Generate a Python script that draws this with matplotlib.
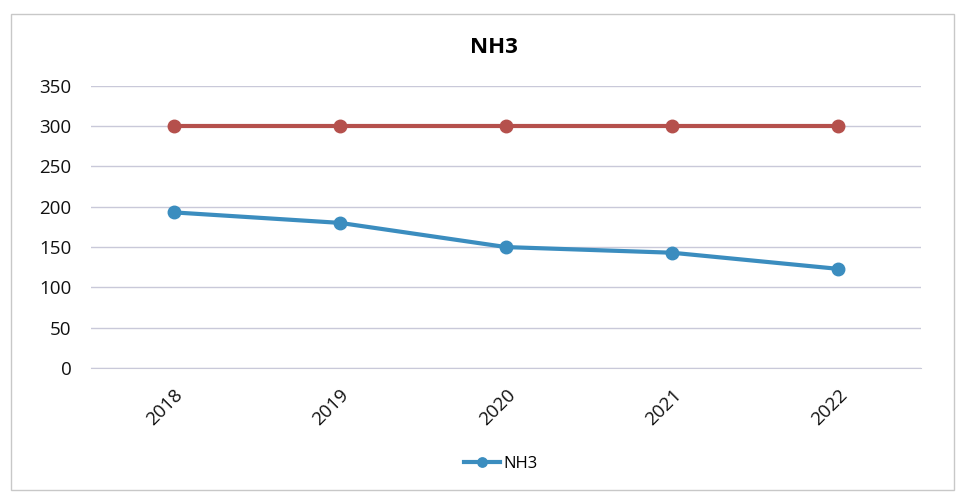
"""Recreate the NH3 yearly chart with its flat limit line."""

import matplotlib.pyplot as plt
from matplotlib.patches import Rectangle

years = ["2018", "2019", "2020", "2021", "2022"]
nh3_values = [193, 180, 150, 143, 123]
limit_values = [300, 300, 300, 300, 300]
y_ticks = [0, 50, 100, 150, 200, 250, 300, 350]

plt.rcParams["font.family"] = ["Open Sans", "DejaVu Sans"]

figure = plt.figure(figsize=(9.63, 4.96), dpi=100)
figure.patches.append(Rectangle((0.011, 0.012), 0.98, 0.96, transform=figure.transFigure,
                                fill=False, edgecolor="#c8c8c8", linewidth=1.0))
axes = figure.add_axes([0.0945, 0.258, 0.862, 0.569])

positions = list(range(len(years)))
axes.plot(positions, limit_values, color="#b5504c", linewidth=3, marker="o",
          markersize=9, solid_capstyle="round")
axes.plot(positions, nh3_values, color="#3b8dbf", linewidth=3, marker="o",
          markersize=9, label="NH3")

axes.set_xlim(-0.5, len(years) - 0.5)
axes.set_ylim(0, 350)
axes.set_yticks(y_ticks)
axes.set_xticks(positions)
axes.set_xticklabels(years, rotation=45, ha="right", va="top", rotation_mode="anchor")
axes.tick_params(axis="both", length=0, labelsize=13.5, colors="#111111")
axes.tick_params(axis="x", pad=13)
axes.tick_params(axis="y", pad=14)
axes.grid(axis="y", color="#c9c9d9", linewidth=1.0)
axes.set_axisbelow(True)
for spine in axes.spines.values():
    spine.set_visible(False)
axes.spines["bottom"].set_visible(True)
axes.spines["bottom"].set_color("#c9c9d9")

figure.text(0.513, 0.905, "NH3", ha="center", va="center", fontsize=16, fontweight="bold")
figure.legend(loc="center", bbox_to_anchor=(0.52, 0.065), frameon=False, fontsize=12,
              handlelength=2.2, handletextpad=0.2, markerscale=0.75)

figure.savefig("out.png", dpi=100)
plt.close(figure)
